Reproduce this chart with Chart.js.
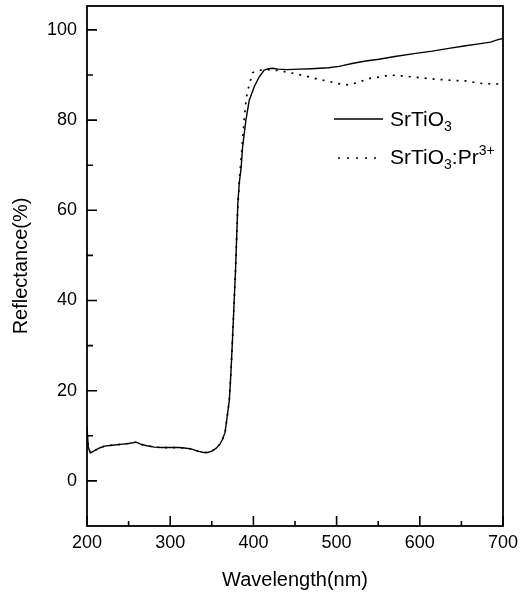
<!DOCTYPE html>
<html><head><meta charset="utf-8">
<script src="https://cdn.jsdelivr.net/npm/chart.js@4/dist/chart.umd.min.js"></script>
<style>html,body{margin:0;padding:0;background:#fff}#wrap{width:530px;height:595px}</style>
</head><body><div id="wrap"><canvas id="c" width="530" height="595"></canvas></div>
<script>
const xTicks=[200,300,400,500,600,700];
const xMinorTicks=[250,350,450,550,650];
const yTicks=[0,20,40,60,80,100];
const yMinorTicks=[10,30,50,70,90];

// SrTiO3 (solid)
const wlPure=[200,201.5,204,208,215,221,230,240,250,259,265,272,281,290,300,310,317,325,333,340,345,350,355,360,363,366,369,371,373,375,378.5,381.3,383,385.3,387,391,395,401,407,413,418,423,430,440,455,470,490,503,520,535,551,570,595,615,635,655,671,685,695,700];
const rPure=[12,7.5,6.2,6.6,7.3,7.7,7.9,8.1,8.3,8.6,8.1,7.8,7.5,7.4,7.4,7.4,7.3,7.1,6.6,6.3,6.3,6.6,7.2,8.2,9.3,10.8,15,17.8,24,31.9,46.7,61.5,66,69.5,74,80,84.4,87.4,89.6,91.1,91.4,91.5,91.3,91.2,91.3,91.4,91.6,91.9,92.6,93.1,93.5,94.1,94.8,95.3,95.9,96.5,96.9,97.3,97.9,98.1];

// SrTiO3:Pr3+ (dotted)
const wlPr=[200,201.5,204,208,215,221,230,240,250,259,265,272,281,290,300,310,317,325,333,340,345,350,355,360,363,366,369,371,373,375,378.5,381,383.5,386.5,389,391.5,394.5,399,405,415,430,438.5,450,462,477,493,501,515,531,541,555,563,579,595,617,640,655,665,679,689,700];
const rPr=[12,7.5,6.2,6.6,7.3,7.7,7.9,8.1,8.3,8.6,8.1,7.8,7.5,7.4,7.4,7.4,7.3,7.1,6.6,6.3,6.3,6.6,7.2,8.2,9.3,10.8,15,17.8,24,31.9,46.7,60,67.5,74.4,80.4,85,87.5,90.5,91,91.2,91,90.7,90.3,89.8,89.1,88.5,88.1,87.8,88.7,89.3,89.6,90.0,89.8,89.5,89.1,88.8,88.7,88.4,88.0,88.1,87.9];

const FONT="'Liberation Sans', Arial, Helvetica, sans-serif";

function drawFormula(ctx,x,y,parts){
  parts.forEach(p=>{
    const size=p.t==='n'?21:14;
    ctx.font=size+'px '+FONT;
    const dy=p.t==='sub'?5:(p.t==='sup'?-9:0);
    ctx.fillText(p.s,x,y+dy);
    x+=ctx.measureText(p.s).width;
  });
}

const framePlugin={id:'frame',afterDatasetsDraw(chart){
  const {ctx,chartArea:a,scales:{x,y}}=chart;
  ctx.save();
  ctx.strokeStyle='#000';
  ctx.lineWidth=1.8;
  ctx.strokeRect(a.left,a.top,a.right-a.left,a.bottom-a.top);
  ctx.lineWidth=1.6;
  ctx.beginPath();
  xTicks.forEach(v=>{const p=x.getPixelForValue(v);ctx.moveTo(p,a.bottom);ctx.lineTo(p,a.bottom-10);});
  xMinorTicks.forEach(v=>{const p=x.getPixelForValue(v);ctx.moveTo(p,a.bottom);ctx.lineTo(p,a.bottom-5);});
  yTicks.forEach(v=>{const p=y.getPixelForValue(v);ctx.moveTo(a.left,p);ctx.lineTo(a.left+10,p);});
  yMinorTicks.forEach(v=>{const p=y.getPixelForValue(v);ctx.moveTo(a.left,p);ctx.lineTo(a.left+6,p);});
  ctx.stroke();
  // legend
  const lx0=a.right-169, lx1=a.right-120, tx=a.right-113;
  ctx.lineWidth=1.3;
  ctx.beginPath();ctx.moveTo(lx0,a.top+113);ctx.lineTo(lx1,a.top+113);ctx.stroke();
  ctx.lineWidth=1.6;ctx.setLineDash([2,7]);
  ctx.beginPath();ctx.moveTo(lx0+4,a.top+152);ctx.lineTo(lx1,a.top+152);ctx.stroke();
  ctx.setLineDash([]);
  ctx.fillStyle='#000';ctx.textBaseline='alphabetic';ctx.textAlign='left';
  drawFormula(ctx,tx,a.top+120,[{t:'n',s:'SrTiO'},{t:'sub',s:'3'}]);
  drawFormula(ctx,tx,a.top+158,[{t:'n',s:'SrTiO'},{t:'sub',s:'3'},{t:'n',s:':Pr'},{t:'sup',s:'3+'}]);
  ctx.restore();
}};

new Chart(document.getElementById('c'),{
  type:'line',
  data:{datasets:[
    {label:'SrTiO3',data:wlPure.map((w,i)=>({x:w,y:rPure[i]})),borderColor:'#000',borderWidth:1.4,pointRadius:0,tension:0,fill:false},
    {label:'SrTiO3:Pr3+',data:wlPr.map((w,i)=>({x:w,y:rPr[i]})),borderColor:'#000',borderWidth:1.7,borderDash:[2,6],pointRadius:0,tension:0,fill:false}
  ]},
  options:{
    responsive:false,animation:false,
    layout:{padding:{top:6,right:27,left:0,bottom:0}},
    plugins:{legend:{display:false},tooltip:{enabled:false},title:{display:false}},
    scales:{
      x:{type:'linear',min:200,max:700,
        afterBuildTicks:s=>{s.ticks=xTicks.map(v=>({value:v}));},
        afterFit:s=>{s.height=69;s.paddingLeft=0;s.paddingRight=0;},
        grid:{display:false,drawTicks:false},border:{display:false},
        ticks:{color:'#000',padding:6,font:{family:FONT,size:18},maxRotation:0,autoSkip:false},
        title:{display:true,text:'Wavelength(nm)',color:'#000',font:{family:FONT,size:20},padding:{top:0,bottom:3}}
      },
      y:{type:'linear',min:-10,max:105.3,
        afterBuildTicks:s=>{s.ticks=yTicks.map(v=>({value:v}));},
        afterFit:s=>{s.width=87;s.paddingTop=0;s.paddingBottom=0;},
        grid:{display:false,drawTicks:false},border:{display:false},
        ticks:{color:'#000',padding:10,font:{family:FONT,size:18},autoSkip:false},
        title:{display:true,text:'Reflectance(%)',color:'#000',font:{family:FONT,size:20},padding:{top:9,bottom:0}}
      }
    }
  },
  plugins:[framePlugin]
});
</script></body></html>
